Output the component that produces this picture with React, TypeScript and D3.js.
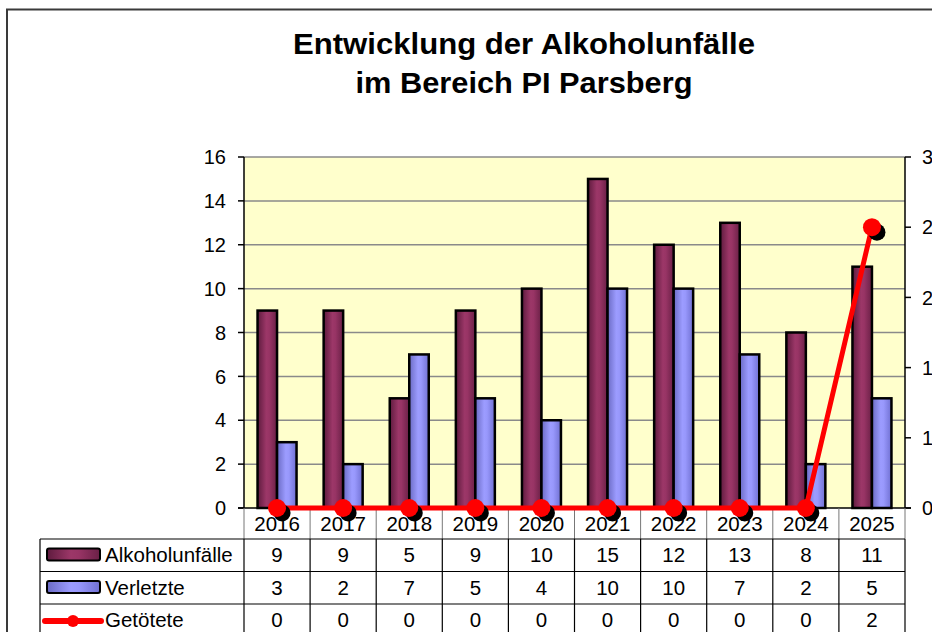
import React from "react";
import * as d3 from "d3";

const years = ["2016", "2017", "2018", "2019", "2020", "2021", "2022", "2023", "2024", "2025"];
const alkoholunfaelle = [9, 9, 5, 9, 10, 15, 12, 13, 8, 11];
const verletzte = [3, 2, 7, 5, 4, 10, 10, 7, 2, 5];
const getoetete = [0, 0, 0, 0, 0, 0, 0, 0, 0, 2];
const leftTicks = [0, 2, 4, 6, 8, 10, 12, 14, 16];
const rightTicks = [0, 0.5, 1, 1.5, 2, 2.5];
const seriesNames = ["Alkoholunfälle", "Verletzte", "Getötete"];
const titleLines = ["Entwicklung der Alkoholunfälle", "im Bereich PI Parsberg"];

const W = 932;
const H = 632;
const FONT = "'Liberation Sans', Arial, sans-serif";

export default function App() {
  const plotL = 244, plotR = 905, plotT = 157, plotB = 508;
  const x = d3.scaleBand<string>().domain(years).range([plotL, plotR]).padding(0);
  const bw = x.bandwidth();
  const sub = d3.scaleBand<string>().domain(["a", "v"]).range([(bw - 39) / 2, (bw + 39) / 2]).padding(0);
  const yL = d3.scaleLinear().domain([0, 16]).range([plotB, plotT]);
  const yR = d3.scaleLinear().domain([0, 2.5]).range([plotB, plotT]);
  const cx = (y: string) => (x(y) as number) + bw / 2;
  const line = d3.line<number>().x((_, i) => cx(years[i])).y((d) => yR(d));

  const tableL = 40;
  const rowH = 32.5;
  const headerB = 539;
  const rows = [alkoholunfaelle, verletzte, getoetete];
  const titleWidths = [462, 337];

  return (
    <svg width={W} height={H} style={{ position: "absolute", left: 0, top: 0, background: "#fff" }} fontFamily={FONT}>
      <defs>
        <linearGradient id="gMaroon" x1="0" x2="1" y1="0" y2="0">
          <stop offset="0%" stopColor="#5e1b3e" />
          <stop offset="45%" stopColor="#9c3768" />
          <stop offset="60%" stopColor="#983465" />
          <stop offset="100%" stopColor="#6a2046" />
        </linearGradient>
        <linearGradient id="gBlue" x1="0" x2="1" y1="0" y2="0">
          <stop offset="0%" stopColor="#6a6ac4" />
          <stop offset="45%" stopColor="#9c9cff" />
          <stop offset="60%" stopColor="#9898fc" />
          <stop offset="100%" stopColor="#7070d2" />
        </linearGradient>
      </defs>
      <rect x={7} y={9.5} width={1000} height={800} fill="#fff" stroke="#3a3a3a" strokeWidth={2} />

      {titleLines.map((t, i) => (
        <text key={i} x={524} y={53.5 + i * 39} textAnchor="middle" fontWeight="bold" fontSize={29} fill="#000"
          textLength={titleWidths[i]} lengthAdjust="spacingAndGlyphs">
          {t}
        </text>
      ))}

      <rect x={plotL} y={plotT} width={plotR - plotL} height={plotB - plotT} fill="#ffffcc" />
      {leftTicks.filter((t) => t > 0).map((t) => (
        <line key={t} x1={plotL} x2={plotR} y1={yL(t)} y2={yL(t)} stroke="#8a8a8a" strokeWidth={1.5} />
      ))}

      {years.map((yr, i) => (
        <g key={yr}>
          <rect x={(x(yr) as number) + (sub("a") as number)} y={yL(alkoholunfaelle[i])} width={sub.bandwidth()} height={plotB - yL(alkoholunfaelle[i])} fill="url(#gMaroon)" stroke="#000" strokeWidth={2.5} />
          <rect x={(x(yr) as number) + (sub("v") as number)} y={yL(verletzte[i])} width={sub.bandwidth()} height={plotB - yL(verletzte[i])} fill="url(#gBlue)" stroke="#000" strokeWidth={2.5} />
        </g>
      ))}

      <line x1={plotL} x2={plotL} y1={plotT} y2={plotB} stroke="#000" strokeWidth={1.5} />
      <line x1={plotR} x2={plotR} y1={plotT} y2={plotB} stroke="#000" strokeWidth={1.5} />
      <line x1={plotL - 6} x2={plotR + 6} y1={plotB} y2={plotB} stroke="#000" strokeWidth={1.5} />
      {leftTicks.map((t) => (
        <g key={t}>
          <line x1={plotL - 6} x2={plotL} y1={yL(t)} y2={yL(t)} stroke="#000" strokeWidth={1.5} />
          <text x={226} y={yL(t)} dy="0.36em" textAnchor="end" fontSize={20}>{t}</text>
        </g>
      ))}
      {rightTicks.map((t) => (
        <g key={t}>
          <line x1={plotR} x2={plotR + 6} y1={yR(t)} y2={yR(t)} stroke="#000" strokeWidth={1.5} />
          <text x={922} y={yR(t)} dy="0.36em" textAnchor="start" fontSize={20}>{Math.round(t)}</text>
        </g>
      ))}

      {/* data table */}
      {years.map((yr) => (
        <line key={"hv" + yr} x1={x(yr) as number} x2={x(yr) as number} y1={plotB} y2={headerB} stroke="#777" strokeWidth={1} />
      ))}
      <line x1={plotR} x2={plotR} y1={plotB} y2={headerB} stroke="#777" strokeWidth={1} />
      {years.map((yr) => (
        <text key={"yt" + yr} x={cx(yr)} y={531} textAnchor="middle" fontSize={20.5}>{yr}</text>
      ))}
      {[0, 1, 2].map((r) => (
        <line key={"hl" + r} x1={tableL} x2={plotR} y1={headerB + r * rowH} y2={headerB + r * rowH} stroke="#000" strokeWidth={1.2} />
      ))}
      <line x1={tableL} x2={tableL} y1={headerB} y2={H} stroke="#000" strokeWidth={1.2} />
      {[...years.map((yr) => x(yr) as number), plotR].map((xx, i) => (
        <line key={"bv" + i} x1={xx} x2={xx} y1={headerB} y2={H} stroke="#000" strokeWidth={1.2} />
      ))}
      {rows.map((vals, r) => (
        <g key={"row" + r}>
          {vals.map((v, i) => (
            <text key={i} x={cx(years[i])} y={headerB + r * rowH + 23} textAnchor="middle" fontSize={20.5}>{v}</text>
          ))}
          <text x={105} y={headerB + r * rowH + 23} fontSize={20.5}>{seriesNames[r]}</text>
        </g>
      ))}
      <rect x={47} y={548.5} width={53} height={12} rx={2} fill="url(#gMaroon)" stroke="#000" strokeWidth={2} />
      <rect x={47} y={581} width={53} height={12} rx={2} fill="url(#gBlue)" stroke="#000" strokeWidth={2} />
      <line x1={45} x2={101} y1={621} y2={621} stroke="#ff0000" strokeWidth={6} strokeLinecap="round" />
      <circle cx={73} cy={621} r={6} fill="#ff0000" />

      {/* line series */}
      <path d={line(getoetete) || ""} fill="none" stroke="#ff0000" strokeWidth={5} />
      {getoetete.map((v, i) => (
        <circle key={"s" + i} cx={cx(years[i]) + 5} cy={yR(v) + 5} r={8.5} fill="#000" />
      ))}
      {getoetete.map((v, i) => (
        <circle key={"c" + i} cx={cx(years[i])} cy={yR(v)} r={9} fill="#ff0000" />
      ))}
    </svg>
  );
}
